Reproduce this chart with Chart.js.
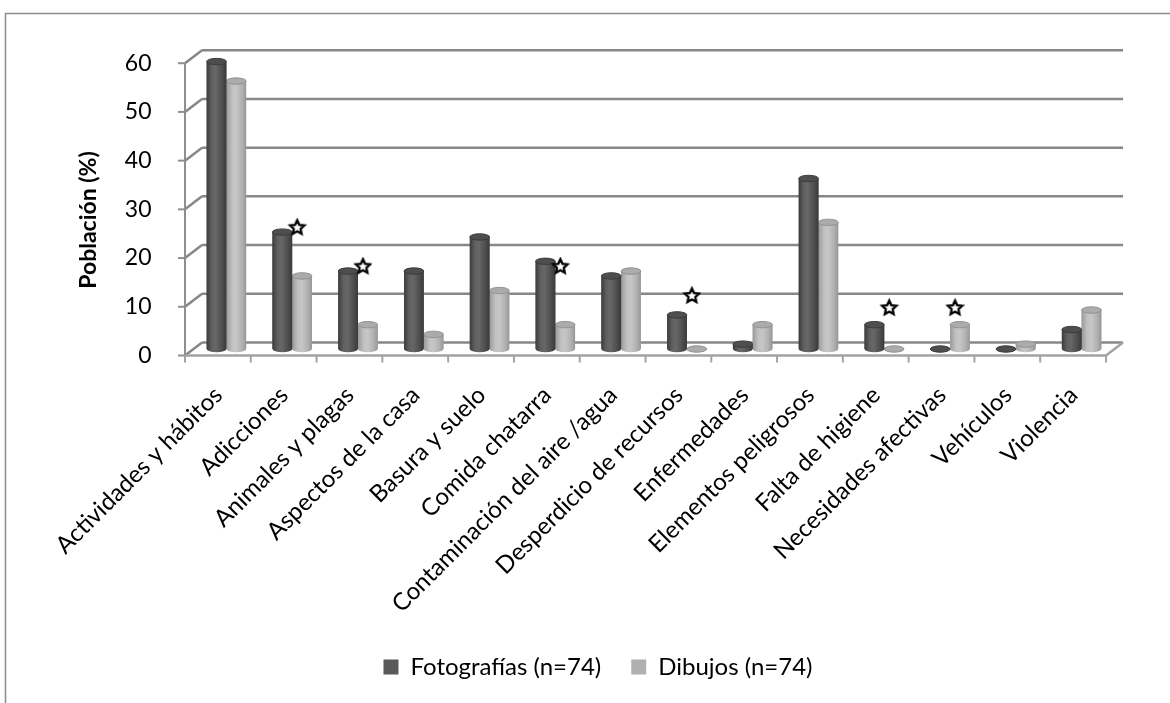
<!DOCTYPE html>
<html>
<head>
<meta charset="utf-8">
<title>Población (%)</title>
<script src="https://cdn.jsdelivr.net/npm/chart.js@4.4.0/dist/chart.umd.min.js"></script>
<style>
  html, body { margin: 0; padding: 0; background: #ffffff; }
  #wrap { width: 1170px; height: 703px; position: relative; }
</style>
</head>
<body>
<div id="wrap"><canvas id="chart" width="1170" height="703"></canvas></div>
<script>
// ---- data ----
const categories = [
  'Actividades y hábitos', 'Adicciones', 'Animales y plagas', 'Aspectos de la casa',
  'Basura y suelo', 'Comida chatarra', 'Contaminación del aire /agua',
  'Desperdicio de recursos', 'Enfermedades', 'Elementos peligrosos',
  'Falta de higiene', 'Necesidades afectivas', 'Vehículos', 'Violencia'
];
const fotografias = [59, 24, 16, 16, 23, 18, 15, 7, 1, 35, 5, 0, 0, 4];
const dibujos     = [55, 15, 5, 3, 12, 5, 16, 0, 5, 26, 0, 5, 1, 8];
// star marks flagging a difference between the two groups
const significance = [null, 25, 17, null, null, 17, null, 11, null, null, 8.5, 8.5, null, null];
const yTicks = [0, 10, 20, 30, 40, 50, 60];
const seriesNames = ['Fotografías (n=74)', 'Dibujos (n=74)'];
const axisTitle = 'Población (%)';

// ---- look ----
const FONT = 'Lato';
const DEPTH_X = 8.5;   // half depth of the 3D box, horizontally
const DEPTH_Y = 6.5;   // half depth of the 3D box, vertically
const GRID = '#878787';

const palettes = [
  { flat: '#595959', top: '#4e4e4e', rim: '#3c3c3c',
    stops: [[0, '#3b3b3b'], [0.25, '#5f5f5f'], [0.45, '#676767'], [0.75, '#505050'], [1, '#3a3a3a']] },
  { flat: '#b0b0b0', top: '#ababab', rim: '#939393',
    stops: [[0, '#9a9a9a'], [0.3, '#c2c2c2'], [0.5, '#c6c6c6'], [0.8, '#b0b0b0'], [1, '#969696']] }
];

// outlined star glyph, drawn a little right of the sprite centre so it sits over the pair's right side
function makeStar(size, shift) {
  const c = document.createElement('canvas');
  c.width = size + 2 * shift; c.height = size;
  const g = c.getContext('2d');
  const cx = c.width / 2 + shift, cy = size / 2 + 0.5, R = size / 2 - 2, r = R * 0.48;
  g.beginPath();
  for (let i = 0; i < 10; i++) {
    const rad = i % 2 === 0 ? R : r;
    const ang = -Math.PI / 2 + i * Math.PI / 5;
    const px = cx + rad * Math.cos(ang), py = cy + rad * Math.sin(ang);
    if (i === 0) g.moveTo(px, py); else g.lineTo(px, py);
  }
  g.closePath();
  g.fillStyle = '#ffffff';
  g.fill();
  g.lineWidth = 2.3;
  g.strokeStyle = '#000000';
  g.stroke();
  return c;
}
const starImg = makeStar(19, 5);

// 3D box: back wall grid, side wall, floor, front axes; cylinder shading of bars
const boxPlugin = {
  id: 'box3d',
  beforeDatasetsDraw(chart) {
    const { ctx, chartArea: a, scales: { x, y } } = chart;
    const y0 = y.getPixelForValue(0);
    ctx.save();
    ctx.lineCap = 'butt';
    // outer frame
    ctx.strokeStyle = '#8c8c8c';
    ctx.lineWidth = 1.5;
    ctx.beginPath();
    ctx.moveTo(5.5, 703); ctx.lineTo(5.5, 13.5); ctx.lineTo(1170, 13.5);
    ctx.stroke();
    // back wall gridlines and side wall lines
    ctx.strokeStyle = GRID;
    ctx.lineWidth = 2.5;
    yTicks.forEach(v => {
      const py = y.getPixelForValue(v);
      ctx.beginPath();
      ctx.moveTo(a.left + DEPTH_X, py - DEPTH_Y);
      ctx.lineTo(a.right + DEPTH_X, py - DEPTH_Y);
      ctx.stroke();
      ctx.beginPath();
      ctx.moveTo(a.left - DEPTH_X, py + DEPTH_Y);
      ctx.lineTo(a.left + DEPTH_X, py - DEPTH_Y);
      ctx.stroke();
    });
    // front vertical axis with tick marks
    ctx.strokeStyle = '#8f8f8f';
    ctx.lineWidth = 2;
    ctx.beginPath();
    ctx.moveTo(a.left - DEPTH_X, y0 + DEPTH_Y);
    ctx.lineTo(a.left - DEPTH_X, y.getPixelForValue(yTicks[yTicks.length - 1]) + DEPTH_Y);
    ctx.stroke();
    yTicks.forEach(v => {
      const py = y.getPixelForValue(v) + DEPTH_Y;
      ctx.beginPath();
      ctx.moveTo(a.left - DEPTH_X - 7, py);
      ctx.lineTo(a.left - DEPTH_X, py);
      ctx.stroke();
    });
    // floor front edge, right edge and category tick marks
    ctx.strokeStyle = '#a3a3a3';
    ctx.lineWidth = 2.5;
    ctx.beginPath();
    ctx.moveTo(a.left - DEPTH_X, y0 + DEPTH_Y);
    ctx.lineTo(a.right - DEPTH_X, y0 + DEPTH_Y);
    ctx.lineTo(a.right + DEPTH_X, y0 - DEPTH_Y);
    ctx.stroke();
    ctx.lineWidth = 2;
    for (let i = 0; i <= categories.length; i++) {
      const bx = x.getPixelForValue(i - 0.5) - DEPTH_X;
      ctx.beginPath();
      ctx.moveTo(bx, y0 + DEPTH_Y);
      ctx.lineTo(bx, y0 + DEPTH_Y + 7);
      ctx.stroke();
    }
    ctx.restore();
  },
  afterDatasetDraw(chart, args) {
    const meta = args.meta;
    if (meta.type !== 'bar') return;
    const pal = palettes[args.index];
    const ctx = chart.ctx;
    ctx.save();
    meta.data.forEach(el => {
      const p = el.getProps(['x', 'y', 'base', 'width'], true);
      const w = p.width, cx = p.x, top = p.y, base = p.base;
      const l = cx - w / 2, r = cx + w / 2, ry = 3.2;
      const g = ctx.createLinearGradient(l, 0, r, 0);
      pal.stops.forEach(s => g.addColorStop(s[0], s[1]));
      // body with rounded bottom
      ctx.beginPath();
      ctx.moveTo(l, top);
      ctx.lineTo(l, base);
      ctx.ellipse(cx, base, w / 2, ry, 0, Math.PI, 0, true);
      ctx.lineTo(r, top);
      ctx.closePath();
      ctx.fillStyle = g;
      ctx.fill();
      // top cap
      ctx.beginPath();
      ctx.ellipse(cx, top, w / 2, ry, 0, 0, Math.PI * 2);
      ctx.fillStyle = pal.top;
      ctx.fill();
      ctx.lineWidth = 1;
      ctx.strokeStyle = pal.rim;
      ctx.stroke();
    });
    ctx.restore();
  },
  afterDraw(chart) {
    const ctx = chart.ctx;
    ctx.save();
    ctx.translate(89, 220);
    ctx.rotate(-Math.PI / 2);
    ctx.font = 'bold 23px ' + FONT;
    ctx.fillStyle = '#000000';
    ctx.textAlign = 'center';
    ctx.textBaseline = 'middle';
    ctx.fillText(axisTitle, 0, 0);
    ctx.restore();
  }
};

new Chart(document.getElementById('chart'), {
  type: 'bar',
  data: {
    labels: categories,
    datasets: [
      { label: seriesNames[0], data: fotografias, backgroundColor: palettes[0].flat,
        borderWidth: 0, order: 2 },
      { label: seriesNames[1], data: dibujos, backgroundColor: palettes[1].flat,
        borderWidth: 0, order: 2 },
      { type: 'line', label: 'sig', showLine: false, order: 0, data: significance,
        pointStyle: starImg, pointRadius: 9, pointHoverRadius: 9 }
    ]
  },
  options: {
    responsive: false,
    devicePixelRatio: 1,
    animation: false,
    events: [],
    datasets: { bar: { categoryPercentage: 0.6, barPercentage: 1.0 } },
    layout: { padding: { left: 81.5, right: 55.5, top: 56.7, bottom: 14 } },
    plugins: {
      legend: {
        position: 'bottom',
        labels: {
          font: { family: FONT, size: 24 },
          color: '#000000',
          boxWidth: 15,
          boxHeight: 15,
          padding: 30,
          filter: item => item.datasetIndex < 2
        }
      },
      tooltip: { enabled: false },
      title: { display: false }
    },
    scales: {
      x: {
        type: 'category',
        grid: { display: false },
        border: { display: false },
        ticks: {
          font: { family: FONT, size: 24 },
          color: '#000000',
          minRotation: 45,
          maxRotation: 45,
          autoSkip: false,
          padding: 24,
          labelOffset: -8
        },
        afterFit: s => { s.height = 276; }
      },
      y: {
        min: 0,
        max: 60,
        grid: { display: false },
        border: { display: false },
        ticks: {
          stepSize: 10,
          font: { family: FONT, size: 23 },
          color: '#000000',
          padding: 34,
          labelOffset: DEPTH_Y
        },
        afterFit: s => { s.width = 112; }
      }
    }
  },
  plugins: [boxPlugin]
});
</script>
</body>
</html>
